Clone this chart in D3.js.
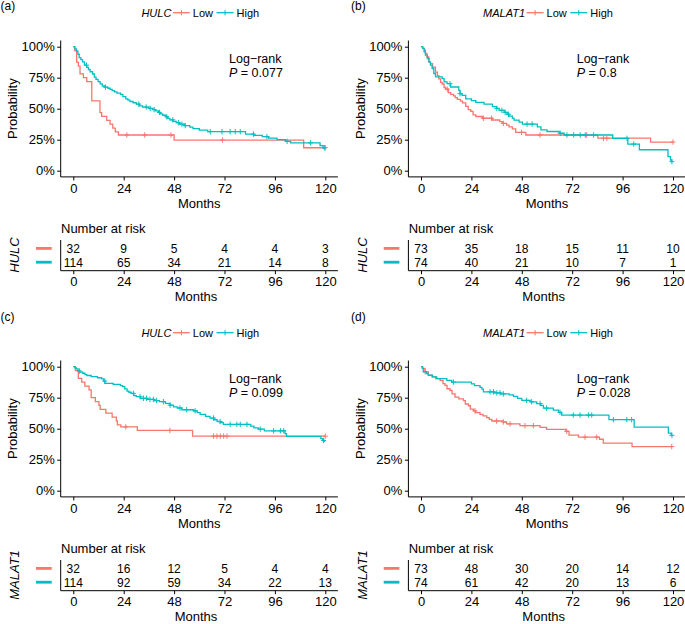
<!DOCTYPE html>
<html><head><meta charset="utf-8">
<script src="https://cdn.jsdelivr.net/npm/d3@7"></script>
<style>body{margin:0;background:#fff}</style>
</head><body><svg id="c" width="685" height="624"></svg>
<script>
// ---------- DATA ----------
const months = [0, 24, 48, 72, 96, 120];
const pctTicks = [0, 25, 50, 75, 100];
const strata = ["Low", "High"];
const panelIds = ["(a)", "(b)", "(c)", "(d)"];
const legendGenes = ["HULC", "MALAT1", "HULC", "MALAT1"];
const riskGenes = ["HULC", "HULC", "MALAT1", "MALAT1"];
const pValues = ["0.077", "0.8", "0.099", "0.028"];

// (a) survival steps [month, % surviving]
const aLowSteps = [[0,100],[0.6,96.9],[1.6,87.5],[2.4,84.4],[3.2,78.1],[4.8,75],[6.4,71.9],[8.8,56.3],[12.7,46.9],[13.5,43.8],[15.9,40.6],[17.5,37.5],[18.8,34.4],[20,31.3],[21.5,28.8],[48,24.7],[109.7,18.5]];
const aLowCensor = [25.5, 34, 46.5, 71, 120];
const aHighSteps = [[0,100],[0.8,98.2],[1.5,96.5],[2.2,93.9],[2.8,91.2],[3.6,89.5],[4.4,87.7],[5.3,85.1],[6.4,83.3],[7.2,81.6],[8,79.8],[9.2,78],[10,75.4],[10.8,73.6],[11.8,71.8],[12.8,70],[13.8,68.3],[15,67.4],[16.5,66.5],[17.5,65.6],[18.5,64.6],[19.6,63.6],[20.8,62.6],[22.5,61.6],[23.6,59.8],[25,58],[26,56.9],[27,55.8],[28.5,54.8],[30,53.7],[31.5,52.2],[33,51.3],[36,50.3],[37.9,49.3],[39.2,48.2],[40.5,47],[41.5,45.9],[42.6,44.7],[44,43.5],[45,42.2],[46,41],[47.5,39.8],[49,38.7],[50.6,37.5],[53,36.4],[55.5,35.2],[57,34],[60,32.8],[64,31.5],[82,29.5],[86,28.5],[90,27.4],[93,26.3],[97,25.1],[101,23.7],[103.5,22.5],[117.5,20.2],[119,18.5]];
const aHighCensor = [6.3,15.3,31.2,34.7,36.6,38.5,41,44.5,47.4,50,51.7,53.3,65.2,70.8,74.7,77.1,79.5,85.8,92.2,101.8,112.9,119.5];
const aRiskLow = [32, 9, 5, 4, 4, 3];
const aRiskHigh = [114, 65, 34, 21, 14, 8];

// (b)
const bLowSteps = [[0,100],[0.8,98.6],[1.5,97.3],[2.1,94.5],[2.8,91.8],[3.7,87.7],[4.5,86.3],[5.5,83.6],[6.9,79.5],[7.8,76.7],[8.5,74],[9.3,71.2],[10.1,69.9],[11,67.1],[11.7,65.8],[13,63],[14.1,61.6],[15.5,60.3],[16.3,58.9],[17.3,57.5],[18.8,56.1],[19.8,54.7],[21.3,51.9],[22.5,49.2],[23.7,47.8],[24.8,45.1],[26.1,43.7],[29.2,42.3],[34,40.9],[37.5,39.5],[38.8,38.1],[40.8,36.7],[41.9,35.3],[43.5,33.8],[45.1,30.9],[49.9,28.8],[84.2,26.2],[109.3,23.1]];
const bLowCensor = [12.5, 29.7, 33.6, 39.2, 47.9, 56.7, 78.9, 86.9, 88.5, 120];
const bHighSteps = [[0,100],[0.8,98.6],[1.5,95.9],[2.1,93.2],[3,90.5],[3.8,87.8],[4.5,85.1],[5.3,82.4],[6.1,78.4],[6.9,75.7],[10.1,74.3],[11,71.6],[12.4,70.2],[14.1,67.5],[18,64.8],[18.6,62.1],[19.6,60.7],[21.3,57.9],[24,56.5],[26.1,55.1],[30,53.7],[34,51.7],[36,50.2],[37.2,48.7],[39.6,47.1],[41,45.5],[41.9,44],[43.5,42.4],[44.3,40.8],[46.7,39.2],[48.3,37.6],[55.4,35.3],[57.1,33],[60,31.6],[65.8,30.2],[68.2,28.8],[91.3,26.1],[98.5,21.5],[104,16.9],[117.6,11.3],[118.8,8.5],[119.4,7.3]];
const bHighCensor = [13.8,18.6,36.1,38.5,40.1,41.7,50.5,52.9,66.3,69.5,72.7,75.8,78.2,82.2,98.1,101.3,119.5];
const bRiskLow = [73, 35, 18, 15, 11, 10];
const bRiskHigh = [74, 40, 21, 10, 7, 1];

// (c)
const cLowSteps = [[0,100],[1,96.9],[2.4,90.6],[4,87.5],[5.5,84.4],[7.5,81.3],[8.5,75],[10.5,71.9],[12.2,68.8],[12.8,65.6],[15.5,62.5],[18.5,59.4],[20.5,56.3],[21,53.1],[22.6,51.5],[30.5,48.6],[56.8,44]];
const cLowCensor = [25, 46, 66.8, 68.4, 70, 71.6, 73.2, 120];
const cHighSteps = [[0,100],[0.8,99.1],[1.5,98.2],[2.3,96.5],[3.2,95.6],[4.5,94.7],[5.5,93.8],[6.4,92.9],[8.5,92],[11.5,91.1],[13.5,90.2],[14.5,88.4],[15.1,86.6],[19,85.7],[22.4,84.8],[23.5,83.9],[24.5,82.1],[25.6,80.3],[26.5,79.4],[27.5,78.5],[28.8,76.7],[30,75.8],[32,74.5],[35,73.6],[38.4,72.7],[41,71.8],[43.9,70.4],[46,69],[47.7,67.6],[49.5,66.7],[51.7,65.3],[57.2,64.4],[59,62.9],[60.4,61.5],[63,60],[65.1,58.6],[67,57.2],[68.5,55.8],[70,54.9],[71.5,53.5],[84.5,52.1],[86,50.6],[88,49.7],[91,48.3],[100.8,46],[101.5,43.8],[117.9,42],[118.8,40.5],[119.5,39.3]];
const cHighCensor = [3,15,28.6,31.8,33.4,34.9,36.5,38.1,39.7,42.9,46.1,50.8,54,58,66.8,69.9,74.7,77.9,79.5,82.7,89,95.4,98.6,100.2,119.2];
const cRiskLow = [32, 16, 12, 5, 4, 4];
const cRiskHigh = [114, 92, 59, 34, 22, 13];

// (d)
const dLowSteps = [[0,100],[0.8,98.6],[1.9,95.9],[3.5,93.2],[5.2,91.8],[7,90.4],[9.1,89],[10.5,86.3],[11.4,84.9],[12.4,82.2],[13.8,80.8],[14.8,78.1],[16.2,75.4],[18,74],[20.2,72.6],[21.1,69.9],[22.6,68.5],[23.5,65.8],[25,64.4],[26,63],[28.1,61.6],[29.5,60.3],[31.3,58.9],[32.5,57.5],[33.7,56.2],[39.2,55.4],[40.8,53.9],[47.1,52.4],[56.7,51],[59.8,49.5],[69,47.9],[70.5,44.8],[75,43.2],[85,41.5],[86.8,38.3],[100.5,35.6]];
const dLowCensor = [2, 25.7, 36, 39.2, 42.4, 49.5, 53.5, 69.4, 78.1, 83.7, 119.4];
const dHighSteps = [[0,100],[0.6,98.6],[1.1,95.9],[2.5,94.5],[3.5,93.1],[5.5,91.8],[7.5,90.4],[12.3,89],[14.6,87.6],[24,86.2],[25.5,84.8],[28.1,83.4],[29,81.9],[29.7,79.7],[35,78.9],[38,78.1],[42,77.2],[44,76],[46,74.5],[48,72.9],[52,71.7],[55.1,70.3],[57,68.8],[58.3,66.6],[63,64.9],[65.5,63.2],[67,61],[89.5,57.3],[101.5,51.3],[117.8,46.5],[119.2,44.6]];
const dHighCensor = [15.4,32.9,34.5,36.1,37.6,39.2,50.3,52.7,56.7,59.8,66.2,72.5,75.7,79.7,81.3,91.6,98,100.3,119.5];
const dRiskLow = [73, 48, 30, 20, 14, 12];
const dRiskHigh = [74, 61, 42, 20, 13, 6];

// ---------- STYLE / LAYOUT ----------
const FONT = "'Liberation Sans', Arial, Helvetica, sans-serif";
const COLORS = {Low: "#F8766D", High: "#00BFC4"};
const panels = [
  {dx: 0,     dy: 0,   labX: 0.5, labY: 9.5,  low: aLowSteps, lowC: aLowCensor, high: aHighSteps, highC: aHighCensor, rLow: aRiskLow, rHigh: aRiskHigh},
  {dx: 347.7, dy: 0,   labX: 351, labY: 9.5,  low: bLowSteps, lowC: bLowCensor, high: bHighSteps, highC: bHighCensor, rLow: bRiskLow, rHigh: bRiskHigh},
  {dx: 0,     dy: 320, labX: 0.5, labY: 320.5, low: cLowSteps, lowC: cLowCensor, high: cHighSteps, highC: cHighCensor, rLow: cRiskLow, rHigh: cRiskHigh},
  {dx: 347.7, dy: 320, labX: 351, labY: 320.5, low: dLowSteps, lowC: dLowCensor, high: dHighSteps, highC: dHighCensor, rLow: dRiskLow, rHigh: dRiskHigh}
];

const svg = d3.select("#c");
svg.append("rect").attr("width", 685).attr("height", 624).attr("fill", "#fff");

function survAt(steps, t) {
  const i = d3.bisector(d => d[0]).right(steps, t) - 1;
  return steps[Math.max(0, i)][1];
}

panels.forEach((p, i) => {
  // panel letter
  svg.append("text").attr("x", p.labX).attr("y", p.labY)
    .attr("font-family", FONT).attr("font-size", 12).attr("fill", "#000").text(panelIds[i]);

  const g = svg.append("g").attr("transform", `translate(${p.dx},${p.dy})`);
  const x = d3.scaleLinear().domain([0, 120]).range([73.3, 325.3]);
  const y = d3.scaleLinear().domain([0, 100]).range([170.7, 46.7]);
  const xL = x(-6), xR = x(126), yB = y(-5), yT = y(105);

  // axes lines
  g.append("line").attr("x1", xL).attr("x2", xL).attr("y1", yT).attr("y2", yB).attr("stroke", "#000").attr("stroke-width", 1);
  g.append("line").attr("x1", xL).attr("x2", xR).attr("y1", yB).attr("y2", yB).attr("stroke", "#000").attr("stroke-width", 1);

  const yAx = g.append("g").attr("transform", `translate(${xL},0)`)
    .call(d3.axisLeft(y).tickValues(pctTicks).tickFormat(d => d + "%").tickSize(3.5).tickPadding(2.5));
  const xAx = g.append("g").attr("transform", `translate(0,${yB})`)
    .call(d3.axisBottom(x).tickValues(months).tickSize(3.5).tickPadding(3.6));
  [yAx, xAx].forEach(a => {
    a.select(".domain").remove();
    a.attr("font-family", FONT).attr("font-size", 13);
    a.selectAll("line").attr("stroke", "#000");
    a.selectAll("text").attr("fill", "#000");
  });

  // axis titles
  g.append("text").attr("x", (xL + xR) / 2).attr("y", 208.3).attr("text-anchor", "middle")
    .attr("font-family", FONT).attr("font-size", 13).text("Months");
  g.append("text").attr("transform", `translate(${17.4},${(yT + yB) / 2}) rotate(-90)`)
    .attr("text-anchor", "middle").attr("font-family", FONT).attr("font-size", 13).text("Probability");

  // curves
  const line = d3.line().x(d => x(d[0])).y(d => y(d[1])).curve(d3.curveStepAfter);
  const series = [{k: "Low", s: p.low, c: p.lowC}, {k: "High", s: p.high, c: p.highC}];
  series.forEach(sr => {
    const end = Math.max(sr.s[sr.s.length - 1][0], d3.max(sr.c));
    const pts = sr.s.concat([[end, sr.s[sr.s.length - 1][1]]]);
    g.append("path").attr("d", line(pts)).attr("fill", "none")
      .attr("stroke", COLORS[sr.k]).attr("stroke-width", 1.3);
    const cg = g.append("g").attr("stroke", COLORS[sr.k]).attr("stroke-width", 1);
    sr.c.forEach(t => {
      const cx = x(t), cy = y(survAt(sr.s, t));
      cg.append("line").attr("x1", cx).attr("x2", cx).attr("y1", cy - 2.7).attr("y2", cy + 2.7);
      cg.append("line").attr("x1", cx - 2.5).attr("x2", cx + 2.5).attr("y1", cy).attr("y2", cy);
    });
  });

  // log-rank annotation
  g.append("text").attr("x", 229).attr("y", 63).attr("font-family", FONT).attr("font-size", 12.5).text("Log\u2212rank");
  const pt = g.append("text").attr("x", 229).attr("y", 77).attr("font-family", FONT).attr("font-size", 12.5);
  pt.append("tspan").attr("font-style", "italic").text("P");
  pt.append("tspan").text(" = " + pValues[i]);

  // legend (centered)
  const lg = g.append("g").attr("font-family", FONT).attr("font-size", 11);
  const ly = 12.7;
  const tTitle = lg.append("text").attr("font-style", "italic").attr("y", ly + 4).text(legendGenes[i]);
  const tLow = lg.append("text").attr("y", ly + 4).text(strata[0]);
  const tHigh = lg.append("text").attr("y", ly + 4).text(strata[1]);
  const wT = tTitle.node().getComputedTextLength(), wL = tLow.node().getComputedTextLength(), wH = tHigh.node().getComputedTextLength();
  const keyW = 17;
  const total = wT + 1.5 + keyW + 3 + wL + 3 + keyW + 3.5 + wH;
  let cx0 = (x(0) + x(120)) / 2 + 1 - total / 2;
  tTitle.attr("x", cx0);
  let kx = cx0 + wT + 1.5;
  [["Low", tLow, wL], ["High", tHigh, wH]].forEach(([k, t, w], j) => {
    lg.append("line").attr("x1", kx).attr("x2", kx + keyW).attr("y1", ly).attr("y2", ly)
      .attr("stroke", COLORS[k]).attr("stroke-width", 1.3);
    lg.append("line").attr("x1", kx + keyW / 2).attr("x2", kx + keyW / 2).attr("y1", ly - 2.7).attr("y2", ly + 2.7)
      .attr("stroke", COLORS[k]).attr("stroke-width", 1);
    t.attr("x", kx + keyW + 3);
    kx = kx + keyW + 3 + w + 3.5;
  });

  // risk table
  const rg = g.append("g");
  const rowY = d3.scalePoint().domain(strata).range([248.4, 262.2]);
  const rBase = 270.7;
  rg.append("text").attr("x", 61).attr("y", 233).attr("font-family", FONT).attr("font-size", 13).text("Number at risk");
  rg.append("line").attr("x1", xL).attr("x2", xL).attr("y1", 240).attr("y2", rBase).attr("stroke", "#000");
  rg.append("line").attr("x1", xL).attr("x2", xR).attr("y1", rBase).attr("y2", rBase).attr("stroke", "#000");
  const rAx = rg.append("g").attr("transform", `translate(0,${rBase})`)
    .call(d3.axisBottom(x).tickValues(months).tickSize(3.5).tickPadding(2.2));
  rAx.select(".domain").remove();
  rAx.attr("font-family", FONT).attr("font-size", 13);
  rAx.selectAll("line").attr("stroke", "#000");
  rAx.selectAll("text").attr("fill", "#000");
  rg.append("text").attr("x", 196).attr("y", 301).attr("text-anchor", "middle")
    .attr("font-family", FONT).attr("font-size", 13).text("Months");
  [["Low", p.rLow], ["High", p.rHigh]].forEach(([k, vals]) => {
    vals.forEach((v, j) => {
      rg.append("text").attr("x", x(months[j])).attr("y", rowY(k) + 4.3).attr("text-anchor", "middle")
        .attr("font-family", FONT).attr("font-size", 12).text(v);
    });
    rg.append("line").attr("x1", 36).attr("x2", 51.7).attr("y1", rowY(k)).attr("y2", rowY(k))
      .attr("stroke", COLORS[k]).attr("stroke-width", 2.8);
  });
  rg.append("text").attr("transform", `translate(${18.8},${255}) rotate(-90)`)
    .attr("text-anchor", "middle").attr("font-family", FONT).attr("font-size", 13)
    .attr("font-style", "italic").text(riskGenes[i]);
});
</script>
</body></html>
